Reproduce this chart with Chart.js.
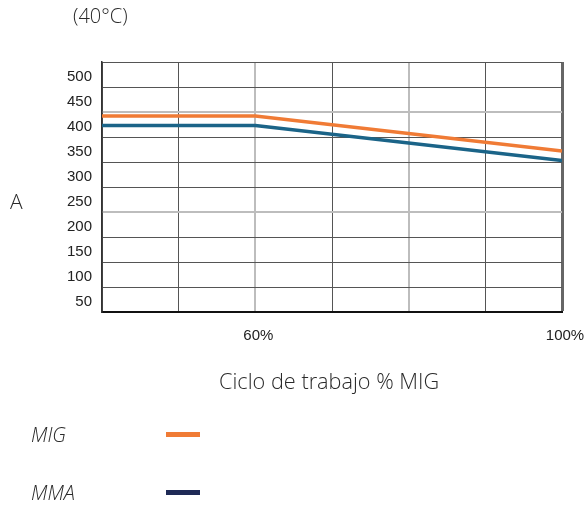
<!DOCTYPE html>
<html>
<head>
<meta charset="utf-8">
<script src="https://cdn.jsdelivr.net/npm/chart.js@4"></script>
<style>
  html, body { margin: 0; padding: 0; background: #fff; }
  #wrap { position: relative; width: 588px; height: 506px; overflow: hidden; }
  #c { position: absolute; left: 0; top: 0; }
  .t { position: absolute; font-family: "Open Sans", sans-serif; font-weight: 300; color: #2a2a2a; white-space: nowrap; line-height: 1; }
  .lg { position: absolute; font-family: "Open Sans", sans-serif; font-style: italic; font-weight: 300; color: #2a2a2a; font-size: 20px; line-height: 1; }
  .sw { position: absolute; width: 34px; height: 5px; }
</style>
</head>
<body>
<div id="wrap">
  <canvas id="c" width="588" height="506"></canvas>
  <div class="t" id="temp" style="left:73px; top:6px; font-size:20px;">(40°C)</div>
  <div class="t" id="yt" style="left:10px; top:191px; font-size:21px;">A</div>
  <div class="t" id="xt" style="left:219px; top:370px; font-size:21.7px;">Ciclo de trabajo % MIG</div>
  <div id="legend"></div>
</div>
<script>
const seriesNames = ["MIG", "MMA"];
const dutyCycle = [40, 60, 100];
const migValues = [417, 417, 347];
const mmaValues = [398, 398, 328];
const xTickLabels = [60, 100];
const xGridValues = [40, 50, 60, 70, 80, 90, 100];
const yTickLabels = [50, 100, 150, 200, 250, 300, 350, 400, 450, 500];
const yGridValues = [25, 75, 125, 175, 225, 275, 325, 375, 425, 475, 525];
const lineColors = ["#F07B35", "#1B6488"];
const legendColors = ["#F07B35", "#1F2A56"];

const lightX = [60, 80];
const lightY = [225, 425];

const datasets = [migValues, mmaValues].map((vals, i) => ({
  label: seriesNames[i],
  data: dutyCycle.map((x, j) => ({ x: x, y: vals[j] })),
  borderColor: lineColors[i],
  borderWidth: 3.5,
  pointRadius: 0,
  tension: 0,
  fill: false
}));

new Chart(document.getElementById('c'), {
  type: 'line',
  data: { datasets: datasets },
  options: {
    responsive: false,
    animation: false,
    devicePixelRatio: 1,
    layout: { padding: { left: 0, top: 62, right: 26, bottom: 0 } },
    plugins: { legend: { display: false }, tooltip: { enabled: false } },
    scales: {
      x: {
        type: 'linear',
        min: 40, max: 100,
        afterBuildTicks: (axis) => { axis.ticks = xGridValues.map(v => ({ value: v })); },
        afterFit: (scale) => { scale.height = 194; scale.paddingLeft = 0; scale.paddingRight = 0; },
        grid: {
          drawTicks: false,
          color: (ctx) => {
            const v = ctx.tick ? ctx.tick.value : null;
            if (v === 100) return '#666';
            return lightX.includes(v) ? '#bdbdbd' : '#555';
          },
          lineWidth: (ctx) => {
            const v = ctx.tick ? ctx.tick.value : null;
            if (v === 100) return 3;
            return lightX.includes(v) ? 2 : 1;
          }
        },
        border: { display: true, color: '#111', width: 2 },
        ticks: {
          autoSkip: false,
          maxRotation: 0,
          padding: 15,
          labelOffset: 3,
          color: '#222',
          font: { family: 'Liberation Sans, Arial, sans-serif', size: 15 },
          callback: (v) => xTickLabels.includes(v) ? v + '%' : ''
        }
      },
      y: {
        type: 'linear',
        min: 25, max: 525,
        afterBuildTicks: (axis) => {
          const all = yGridValues.concat(yTickLabels).sort((a, b) => a - b);
          axis.ticks = all.map(v => ({ value: v }));
        },
        afterFit: (scale) => { scale.width = 102; scale.paddingTop = 0; scale.paddingBottom = 0; },
        grid: {
          drawTicks: false,
          color: (ctx) => {
            const v = ctx.tick ? ctx.tick.value : null;
            if (!yGridValues.includes(v)) return 'rgba(0,0,0,0)';
            return lightY.includes(v) ? '#bdbdbd' : '#555';
          },
          lineWidth: (ctx) => {
            const v = ctx.tick ? ctx.tick.value : null;
            return lightY.includes(v) ? 2 : 1;
          }
        },
        border: { display: true, color: '#333', width: 1.5 },
        ticks: {
          autoSkip: false,
          padding: 10,
          labelOffset: 2,
          color: '#222',
          font: { family: 'Liberation Sans, Arial, sans-serif', size: 15 },
          callback: (v) => yTickLabels.includes(v) ? String(v) : ''
        }
      }
    }
  }
});

// legend built from series
const lg = document.getElementById('legend');
const legendTops = [425, 483];
seriesNames.forEach((name, i) => {
  const t = document.createElement('div');
  t.className = 'lg';
  t.textContent = name;
  t.style.left = '31px';
  t.style.top = legendTops[i] + 'px';
  lg.appendChild(t);
  const s = document.createElement('div');
  s.className = 'sw';
  s.style.left = '166px';
  s.style.top = (legendTops[i] + 7) + 'px';
  s.style.background = legendColors[i];
  lg.appendChild(s);
});
</script>
</body>
</html>
